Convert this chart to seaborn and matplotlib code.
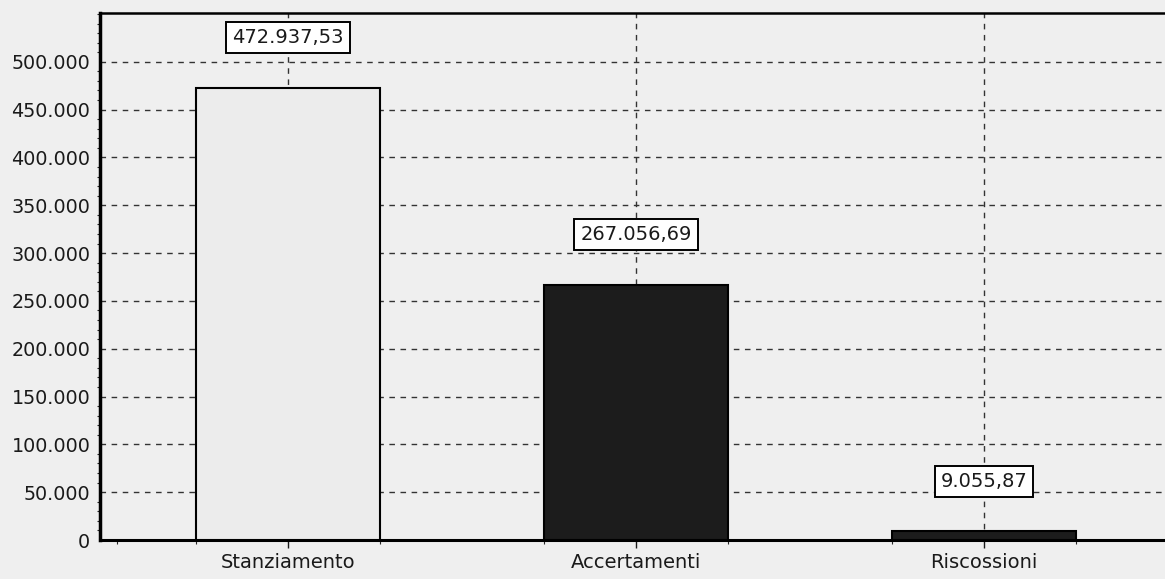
import matplotlib
matplotlib.use("Agg")
import matplotlib.pyplot as plt
import seaborn as sns
import pandas as pd
from matplotlib.ticker import FixedLocator, MultipleLocator, FuncFormatter

categories = ["Stanziamento", "Accertamenti", "Riscossioni"]
values = [472937.53, 267056.69, 9055.87]
bar_colors = ["#ececec", "#1c1c1c", "#1c1c1c"]
y_ticks = [0, 50000, 100000, 150000, 200000, 250000, 300000, 350000, 400000, 450000, 500000]

def it_fmt(v, dec=2):
    s = f"{v:,.{dec}f}"
    return s.replace(",", "X").replace(".", ",").replace("X", ".")

sns.set_theme(style="white")
plt.rcParams['font.family'] = ['DejaVu Sans']

bg = "#efefef"
fig = plt.figure(figsize=(11.65, 5.79), dpi=100, facecolor=bg)
ax = fig.add_axes([100/1165, 1-540/579, (1172-100)/1165, (540-13)/579])
ax.set_facecolor(bg)

df = pd.DataFrame({"cat": categories, "val": values})
sns.barplot(data=df, x="cat", y="val", hue="cat", palette=dict(zip(categories, bar_colors)),
            edgecolor="black", linewidth=1.5, width=0.53, legend=False, ax=ax, zorder=3)

ax.set_xlim(-0.54, 2.54)
ax.set_ylim(0, 551000)
ax.yaxis.set_major_locator(FixedLocator(y_ticks))
ax.yaxis.set_major_formatter(FuncFormatter(lambda v, p: it_fmt(v, 0)))
ax.yaxis.set_minor_locator(MultipleLocator(10000))
ax.xaxis.set_minor_locator(FixedLocator([-0.49, -0.265, 0.265, 0.735, 1.265, 1.735, 2.265]))

ax.grid(True, which="major", axis="both", linestyle=(0, (4, 4)), color="#333333", linewidth=1.0, zorder=0)
ax.set_axisbelow(True)

for side in ["left", "top", "bottom"]:
    ax.spines[side].set_visible(True)
    ax.spines[side].set_color("black")
ax.spines["left"].set_linewidth(2.5)
ax.spines["bottom"].set_linewidth(2.2)
ax.spines["top"].set_linewidth(1.8)
ax.spines["right"].set_visible(False)

ax.tick_params(axis="y", which="major", direction="out", length=6, width=1, labelsize=13.8, colors="#1a1a1a", pad=1)
ax.tick_params(axis="y", which="minor", direction="out", length=2, width=0.8, left=True)
ax.tick_params(axis="x", which="major", direction="out", length=6, width=1, labelsize=14, colors="#1a1a1a", pad=3, bottom=True)
ax.tick_params(axis="x", which="minor", direction="out", length=3, width=0.8, bottom=True)
ax.set_xlabel("")
ax.set_ylabel("")

for i, v in enumerate(values):
    ax.annotate(it_fmt(v), xy=(i, v), xytext=(0, 36), textcoords="offset points",
                ha="center", va="center", fontsize=14, color="#1a1a1a", zorder=5,
                bbox=dict(boxstyle="square,pad=0.3", facecolor="white", edgecolor="black", linewidth=1.4))

fig.savefig("out.png", dpi=100, facecolor=bg)
